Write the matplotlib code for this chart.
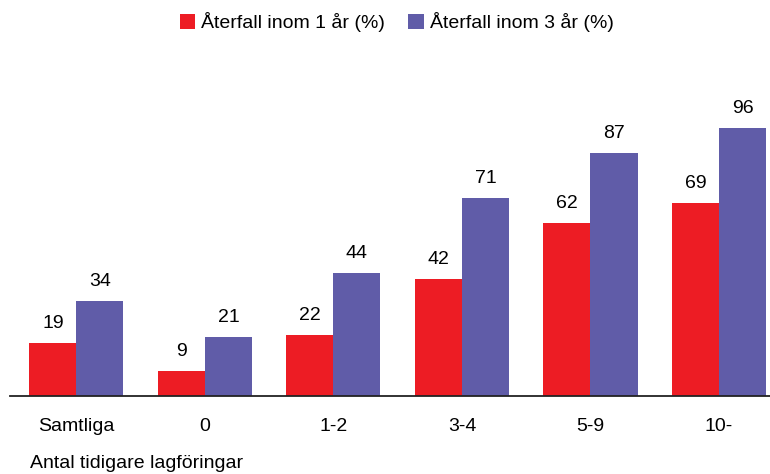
import matplotlib
matplotlib.use("Agg")
import matplotlib.pyplot as plt
import numpy as np

categories = ["Samtliga", "0", "1-2", "3-4", "5-9", "10-"]
series1_name = "Återfall inom 1 år (%)"
series2_name = "Återfall inom 3 år (%)"
series1 = [19, 9, 22, 42, 62, 69]
series2 = [34, 21, 44, 71, 87, 96]

RED = "#ED1C24"
BLUE = "#605CA8"
plt.rcParams['font.family'] = ['Liberation Sans', 'DejaVu Sans']
FS = 14

fig = plt.figure(figsize=(7.7, 4.74), dpi=100)
ax = fig.add_axes([10/770, 1-396/474, 760/770, (396-89)/474])

x = np.arange(len(categories))
w = 0.366
b1 = ax.bar(x - w/2, series1, w, color=RED, label=series1_name)
b2 = ax.bar(x + w/2, series2, w, color=BLUE, label=series2_name)

for bars, vals in ((b1, series1), (b2, series2)):
    for r, v in zip(bars, vals):
        ax.annotate(str(v), (r.get_x() + r.get_width()/2, r.get_height()),
                    xytext=(0, 11), textcoords="offset pixels",
                    ha="center", va="bottom", fontsize=FS)

ax.set_xlim(-0.517, 5.397)
ax.set_ylim(0, 110)
ax.set_xticks(x)
ax.set_xticklabels(categories, fontsize=FS)
ax.tick_params(axis='x', length=0, pad=16)
ax.set_yticks([])
for s in ("top", "right", "left"):
    ax.spines[s].set_visible(False)
ax.spines["bottom"].set_linewidth(1.3)
ax.spines["bottom"].set_color("#222222")

fig.text(30/770, 1-463/474, "Antal tidigare lagföringar", fontsize=FS, ha="left", va="center")

fig.legend(handles=[b1, b2], labels=[series1_name, series2_name], loc="center",
           bbox_to_anchor=(0.515, 1-22/474), ncol=2, frameon=False, fontsize=FS,
           handlelength=0.8, handleheight=0.8, handletextpad=0.3, columnspacing=1.2)

fig.savefig("out.png", dpi=100)
